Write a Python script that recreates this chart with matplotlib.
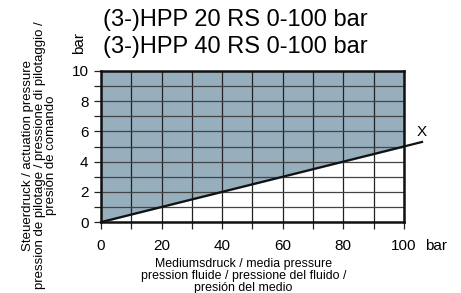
import numpy as np
import matplotlib
matplotlib.use('Agg')
import matplotlib.pyplot as plt

plt.rcParams['font.family'] = ['Liberation Sans', 'DejaVu Sans']

# data
title_lines = ['(3-)HPP 20 RS 0-100 bar', '(3-)HPP 40 RS 0-100 bar']
medium = [0, 106]          # media pressure (bar)
actuation = [0, 5.3]       # actuation pressure (bar)
xticks = [0, 20, 40, 60, 80, 100]
yticks = [0, 2, 4, 6, 8, 10]
ylabel = 'Steuerdruck / actuation pressure\npression de pilotage / pressione di pilotaggio /\npresión de comando'
xlabel = 'Mediumsdruck / media pressure\npression fluide / pressione del fluido /\npresión del medio'

fig = plt.figure(figsize=(4.61, 2.93), dpi=100)
ax = fig.add_axes([0.219, 0.242, 0.657, 0.516])

# shaded region above the line
xs = np.array([0, 100])
ax.fill_between(xs, xs / 20, 10, color='#97aebd', zorder=0)

for x in range(0, 101, 10):
    ax.axvline(x, color='#222222', lw=0.9, zorder=1)
for y in range(0, 11):
    ax.axhline(y, color='#444444', lw=0.9, zorder=1)

ax.plot(medium, actuation, color='#111111', lw=1.6, zorder=3, clip_on=False)
ax.text(106, 5.95, 'X', ha='center', va='center', fontsize=11, clip_on=False)

ax.set_xlim(0, 100)
ax.set_ylim(0, 10)
ax.set_xticks(range(0, 101, 10))
ax.set_xticklabels([str(v) if v in xticks else '' for v in range(0, 101, 10)], fontsize=11)
ax.set_yticks(range(0, 11))
ax.set_yticklabels([str(v) if v in yticks else '' for v in range(0, 11)], fontsize=11)
ax.tick_params(direction='out', length=5, width=0.9, color='#222222')
ax.tick_params(axis='x', pad=7)
ax.tick_params(axis='y', pad=4)
for s in ax.spines.values():
    s.set_linewidth(1.8)
    s.set_color('#111111')
    s.set_zorder(4)

ax.text(107.0, -1.55, 'bar', ha='left', va='center', fontsize=11, clip_on=False)

fig.text(0.51, 0.932, title_lines[0], ha='center', va='center', fontsize=17)
fig.text(0.51, 0.84, title_lines[1], ha='center', va='center', fontsize=17)
fig.text(0.171, 0.853, 'bar', rotation=90, ha='center', va='center', fontsize=11)

fig.text(0.086, 0.47, ylabel, rotation=90, ha='center', va='center', fontsize=9.5,
         linespacing=0.92)
fig.text(0.528, 0.058, xlabel, ha='center', va='center', fontsize=8.9, linespacing=0.97)

fig.savefig('out.png', dpi=100)
